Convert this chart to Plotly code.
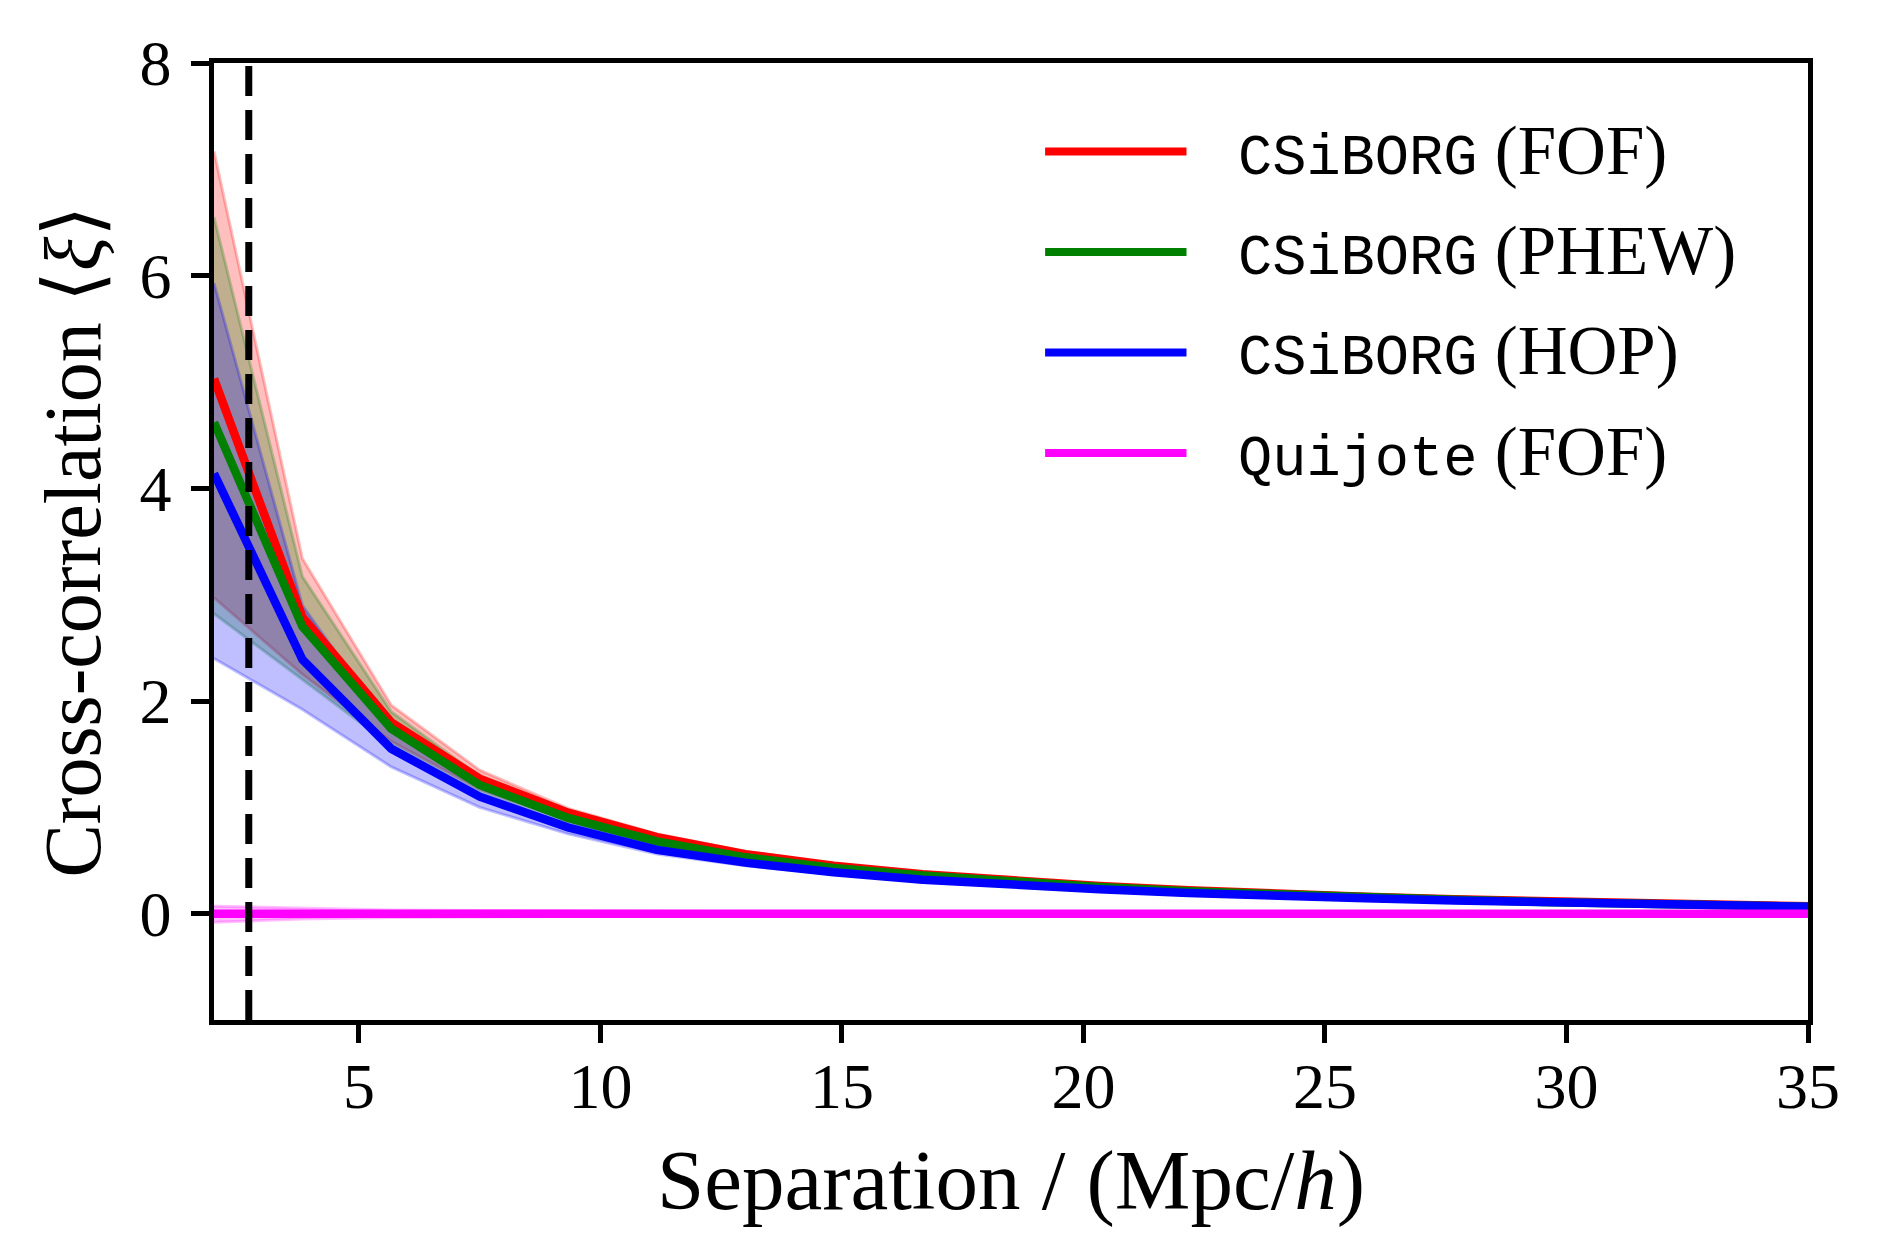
import plotly.graph_objects as go

# ---------------- data ----------------
separation = [2.0, 3.83, 5.67, 7.5, 9.33, 11.17, 13.0, 14.83, 16.67, 18.5,
              20.33, 22.17, 24.0, 25.83, 27.67, 29.5, 31.33, 33.17, 35.0]

fof_mean = [5.03, 2.79, 1.80, 1.27, 0.95, 0.72, 0.56, 0.45, 0.37, 0.31,
            0.26, 0.22, 0.185, 0.16, 0.135, 0.115, 0.095, 0.08, 0.07]
fof_upper = [7.17, 3.34, 1.96, 1.35, 0.99, 0.75, 0.585, 0.47, 0.385, 0.32,
             0.27, 0.228, 0.192, 0.165, 0.14, 0.119, 0.099, 0.083, 0.073]
fof_lower = [2.97, 2.25, 1.62, 1.17, 0.88, 0.67, 0.53, 0.43, 0.355, 0.30,
             0.25, 0.212, 0.178, 0.155, 0.13, 0.111, 0.091, 0.077, 0.067]

phew_mean = [4.62, 2.70, 1.74, 1.21, 0.90, 0.68, 0.53, 0.43, 0.36, 0.30,
             0.25, 0.21, 0.18, 0.155, 0.13, 0.11, 0.095, 0.08, 0.065]
phew_upper = [6.55, 3.17, 1.90, 1.29, 0.94, 0.71, 0.555, 0.45, 0.375, 0.31,
              0.26, 0.218, 0.187, 0.16, 0.135, 0.114, 0.098, 0.083, 0.068]
phew_lower = [2.82, 2.20, 1.58, 1.12, 0.84, 0.64, 0.50, 0.41, 0.345, 0.29,
              0.24, 0.202, 0.173, 0.15, 0.125, 0.106, 0.092, 0.077, 0.062]

hop_mean = [4.14, 2.39, 1.55, 1.10, 0.81, 0.60, 0.48, 0.39, 0.32, 0.27,
            0.23, 0.195, 0.165, 0.145, 0.125, 0.105, 0.09, 0.075, 0.065]
hop_upper = [5.93, 2.90, 1.72, 1.20, 0.87, 0.64, 0.51, 0.41, 0.335, 0.28,
             0.24, 0.203, 0.172, 0.15, 0.13, 0.109, 0.093, 0.078, 0.068]
hop_lower = [2.40, 1.92, 1.38, 1.00, 0.75, 0.56, 0.45, 0.37, 0.305, 0.26,
             0.22, 0.187, 0.158, 0.14, 0.12, 0.101, 0.087, 0.072, 0.062]

quijote_mean = [0.0, 0.0, 0.0, 0.0, 0.0, 0.0, 0.0, 0.0, 0.0, 0.0,
                0.0, 0.0, 0.0, 0.0, 0.0, 0.0, 0.0, 0.0, 0.0]
quijote_upper = [0.07, 0.05, 0.035, 0.03, 0.025, 0.02, 0.02, 0.018, 0.016, 0.015,
                 0.014, 0.013, 0.012, 0.012, 0.011, 0.011, 0.010, 0.010, 0.010]
quijote_lower = [-0.08, -0.05, -0.035, -0.03, -0.025, -0.02, -0.02, -0.018, -0.016, -0.015,
                 -0.014, -0.013, -0.012, -0.012, -0.011, -0.011, -0.010, -0.010, -0.010]

series_names = ["CSiBORG", "CSiBORG", "CSiBORG", "Quijote"]
finder_names = ["FOF", "PHEW", "HOP", "FOF"]
series_colors = ["#ff0000", "#008000", "#0000ff", "#ff00ff"]
band_colors = ["rgba(255,0,0,0.25)", "rgba(0,128,0,0.25)",
               "rgba(0,0,255,0.25)", "rgba(255,0,255,0.25)"]
means = [fof_mean, phew_mean, hop_mean, quijote_mean]
uppers = [fof_upper, phew_upper, hop_upper, quijote_upper]
lowers = [fof_lower, phew_lower, hop_lower, quijote_lower]

cutoff_separation = 2.72
x_ticks = [5, 10, 15, 20, 25, 30, 35]
y_ticks = [0, 2, 4, 6, 8]
x_range = [2, 35]
y_range = [-1, 8]

SERIF = "Liberation Serif, DejaVu Serif, serif"
MONO_NAME = "Liberation Mono"

fig = go.Figure()

# bands first
for up, lo, bc in zip(uppers, lowers, band_colors):
    fig.add_trace(go.Scatter(x=separation, y=lo, mode="lines",
                             line=dict(color=bc, width=3), showlegend=False,
                             hoverinfo="skip"))
    fig.add_trace(go.Scatter(x=separation, y=up, mode="lines", fill="tonexty",
                             fillcolor=bc, line=dict(color=bc, width=3),
                             showlegend=False, hoverinfo="skip"))

# mean lines
for m, c, sn, fn in zip(means, series_colors, series_names, finder_names):
    fig.add_trace(go.Scatter(x=separation, y=m, mode="lines",
                             line=dict(color=c, width=8.5),
                             name=f"{sn} ({fn})", showlegend=False))

# dashed vertical line
fig.add_trace(go.Scatter(x=[cutoff_separation, cutoff_separation], y=y_range,
                         mode="lines", line=dict(color="black", width=7, dash="30px,14px"),
                         showlegend=False, hoverinfo="skip"))

# custom legend (matplotlib style long line samples)
leg_x0, leg_x1, leg_text_x = 0.5214, 0.6101, 0.641
leg_y = [0.9075, 0.8025, 0.6975, 0.5925]
for yy, c, sn, fn in zip(leg_y, series_colors, series_names, finder_names):
    fig.add_shape(type="line", xref="paper", yref="paper", x0=leg_x0, x1=leg_x1,
                  y0=yy, y1=yy, line=dict(color=c, width=8))
    fig.add_annotation(xref="paper", yref="paper", x=leg_text_x, y=yy,
                       xanchor="left", yanchor="middle", showarrow=False,
                       text=f'<span style="font-family:{MONO_NAME};font-size:57px">{sn}</span> ({fn})',
                       font=dict(family=SERIF, size=69, color="black"))

axis_common = dict(showline=True, linecolor="black", linewidth=4.5, mirror=True,
                   ticks="outside", ticklen=18, tickwidth=4.5, tickcolor="black",
                   showgrid=False, zeroline=False,
                   tickfont=dict(family=SERIF, size=64, color="black"))

fig.update_layout(
    width=1883, height=1260,
    margin=dict(l=206, r=83, t=55, b=248),
    paper_bgcolor="white", plot_bgcolor="white",
    showlegend=False,
    xaxis=dict(range=x_range, tickvals=x_ticks, ticklabelstandoff=-12, **axis_common,
               title=dict(text="Separation / (Mpc/<i>h</i>)",
                          font=dict(family=SERIF, size=85, color="black"), standoff=30)),
    yaxis=dict(range=y_range, tickvals=y_ticks, ticklabelstandoff=7, **axis_common,
               title=dict(text="Cross-correlation ⟨<i>ξ</i>⟩",
                          font=dict(family=SERIF, size=80, color="black"), standoff=14)),
)

fig.write_html("out.html")
